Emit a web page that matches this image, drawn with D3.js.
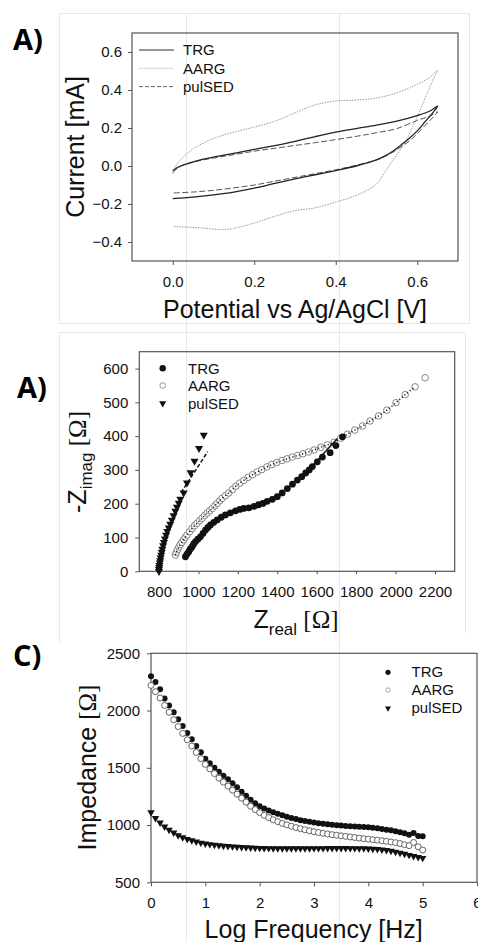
<!DOCTYPE html>
<html><head><meta charset="utf-8">
<script src="https://cdn.jsdelivr.net/npm/d3@7"></script>
<style>body{margin:0;background:#fff}svg{display:block}</style>
</head><body>
<script>
// ---------- Panel A (CV) data ----------
const cvTicksX = [0, 0.2, 0.4, 0.6];
const cvTicksY = [-0.4, -0.2, 0.0, 0.2, 0.4, 0.6];
const trgE = [0,0.01,0.02,0.04,0.07,0.1,0.15,0.2,0.25,0.3,0.35,0.4,0.45,0.5,0.55,0.6,0.63,0.65,0.64,0.62,0.6,0.58,0.56,0.54,0.52,0.5,0.45,0.4,0.35,0.3,0.25,0.2,0.15,0.1,0.05,0];
const trgI = [-0.025,-0.01,0,0.015,0.033,0.047,0.067,0.087,0.107,0.13,0.155,0.178,0.197,0.215,0.236,0.265,0.288,0.315,0.285,0.235,0.185,0.145,0.11,0.078,0.052,0.032,0,-0.024,-0.046,-0.068,-0.092,-0.117,-0.137,-0.152,-0.164,-0.172];
const pulE = [0,0.01,0.02,0.04,0.07,0.1,0.15,0.2,0.25,0.3,0.35,0.4,0.45,0.5,0.55,0.6,0.63,0.65,0.64,0.62,0.6,0.58,0.56,0.54,0.52,0.5,0.45,0.4,0.35,0.3,0.25,0.2,0.15,0.1,0.05,0];
const pulI = [-0.035,-0.015,0,0.014,0.03,0.042,0.06,0.078,0.093,0.108,0.123,0.139,0.156,0.175,0.197,0.24,0.262,0.285,0.26,0.215,0.17,0.13,0.1,0.072,0.05,0.032,0.004,-0.02,-0.04,-0.06,-0.08,-0.1,-0.115,-0.128,-0.137,-0.142];
const aargE = [0,0.005,0.01,0.02,0.035,0.05,0.07,0.1,0.15,0.2,0.25,0.3,0.35,0.4,0.45,0.5,0.55,0.6,0.63,0.65,0.64,0.62,0.6,0.58,0.56,0.54,0.52,0.5,0.47,0.44,0.4,0.35,0.3,0.25,0.2,0.15,0.12,0.1,0.07,0.04,0.02,0];
const aargI = [-0.04,-0.01,0.01,0.035,0.065,0.09,0.115,0.145,0.178,0.205,0.235,0.28,0.322,0.342,0.347,0.358,0.385,0.43,0.465,0.505,0.46,0.36,0.26,0.165,0.09,0.03,-0.035,-0.095,-0.135,-0.163,-0.19,-0.22,-0.235,-0.265,-0.3,-0.328,-0.335,-0.332,-0.326,-0.322,-0.32,-0.318];

// ---------- Panel B (Nyquist) data ----------
const nyTicksX = [800,1000,1200,1400,1600,1800,2000,2200];
const nyTicksY = [0,100,200,300,400,500,600];
const nyTrgRe = [934,942,951,959,968,976,985,997,1010,1023,1036,1048,1061,1078,1095,1116,1137,1162,1188,1210,1230,1256,1282,1305,1327,1349,1375,1400,1425,1451,1477,1502,1524,1544,1562,1578,1603,1629,1668,1697,1731];
const nyTrgIm = [43,51,58,66,73,81,88,95,102,112,122,130,137,145,152,160,167,173,179,183,186,188,192,197,201,207,213,221,232,245,258,270,280,291,300,310,324,338,351,372,398];
const nyAargRe = [883,888,894,901,908,916,925,933,942,955,968,980,993,1006,1019,1031,1044,1057,1070,1083,1095,1108,1120,1137,1154,1172,1190,1210,1230,1252,1275,1298,1322,1347,1372,1398,1424,1450,1476,1503,1530,1558,1587,1620,1654,1688,1722,1756,1793,1832,1871,1914,1956,2002,2049,2099,2150];
const nyAargIm = [48,56,64,72,79,86,93,100,107,117,127,135,142,150,157,165,172,179,186,194,201,209,216,224,232,242,252,261,269,278,286,294,301,309,316,322,328,333,338,343,348,353,359,367,374,382,394,406,418,430,445,460,477,499,523,546,573];
const nyPulRe = [800,800,801,802,804,806,808,811,814,817,821,825,830,836,842,849,857,865,874,883,891,900,908,925,942,960,980,1003,1027];
const nyPulIm = [0,6,12,18,25,32,40,48,57,66,76,86,96,107,118,129,140,152,165,178,190,202,214,232,262,292,326,364,403];
const nyPulFitRe = [912,1047];
const nyPulFitIm = [233,354];
const nyTrgFitRe = [1540,1612,1705];
const nyTrgFitIm = [288,334,393];

// ---------- Panel C (Bode) data ----------
const bdTicksX = [0,1,2,3,4,5,6];
const bdTicksY = [500,1000,1500,2000,2500];
const logF = [0,0.083,0.167,0.25,0.333,0.417,0.5,0.583,0.667,0.75,0.833,0.917,1,1.083,1.167,1.25,1.333,1.417,1.5,1.583,1.667,1.75,1.833,1.917,2,2.083,2.167,2.25,2.333,2.417,2.5,2.583,2.667,2.75,2.833,2.917,3,3.083,3.167,3.25,3.333,3.417,3.5,3.583,3.667,3.75,3.833,3.917,4,4.083,4.167,4.25,4.333,4.417,4.5,4.583,4.667,4.75,4.833,4.917,5];
const bdTrg = [2300,2250,2185,2105,2045,1985,1925,1865,1805,1750,1690,1635,1580,1540,1500,1465,1430,1400,1365,1330,1290,1255,1220,1190,1165,1145,1128,1112,1098,1085,1073,1062,1052,1043,1035,1028,1022,1016,1011,1006,1002,998,995,992,990,987,985,982,980,977,972,966,960,954,946,938,928,915,930,905,902];
const bdAarg = [2220,2165,2110,2045,1985,1920,1860,1800,1745,1690,1635,1580,1530,1490,1450,1410,1375,1340,1305,1270,1235,1200,1165,1135,1108,1085,1065,1046,1030,1015,1002,990,978,968,959,950,942,935,928,922,916,911,906,901,896,891,886,881,877,872,868,863,858,852,846,838,828,820,848,810,782];
const bdPul = [1110,1060,1020,985,958,933,910,892,877,865,854,845,838,832,827,822,818,815,812,809,806,804,802,800,799,798,797,796,796,795,795,795,795,795,796,796,797,797,797,798,798,798,798,798,797,797,796,795,794,792,789,785,780,774,766,757,748,738,728,719,712];

const seriesNames = ["TRG", "AARG", "pulSED"];

// ---------- drawing ----------
const W = 478, H = 942;
const FONT = "'Liberation Sans', Arial, sans-serif";
const svg = d3.select("body").append("svg").attr("width", W).attr("height", H)
  .style("font-family", FONT);
svg.append("rect").attr("width", W).attr("height", H).attr("fill", "#fff");

// faint page guides
const guide = svg.append("g").attr("stroke", "#e8e8e8").attr("stroke-width", 1).attr("fill", "none");
guide.append("line").attr("x1", 186.5).attr("x2", 186.5).attr("y1", 13).attr("y2", H);
guide.append("line").attr("x1", 339.5).attr("x2", 339.5).attr("y1", 13).attr("y2", H);
guide.append("rect").attr("x", 59.5).attr("y", 13.5).attr("width", 410).attr("height", 310);
guide.append("path").attr("d", "M59.5,643 V332.5 H465.5 V633");

function zip(a, b) { const n = Math.min(a.length, b.length); return d3.range(n).map(i => [a[i], b[i]]); }

function frame(g, x, y) {
  const [x0, x1] = x.range(), [y0, y1] = y.range();
  g.append("rect").attr("x", x0).attr("y", y1).attr("width", x1 - x0).attr("height", y0 - y1)
    .attr("fill", "none").attr("stroke", "#555").attr("stroke-width", 1.2);
}
function styleAxis(sel) {
  sel.select(".domain").remove();
  sel.selectAll(".tick line").attr("stroke", "#555");
  sel.selectAll(".tick text").attr("fill", "#111").style("font-size", "15px").style("font-family", FONT);
}
function panelLetter(txt, x, y) {
  svg.append("text").attr("x", x).attr("y", y).text(txt)
    .style("font-family", "'Open Sans', 'DejaVu Sans', sans-serif").style("font-weight", 700)
    .style("font-size", "29px").attr("fill", "#000");
}

// ===== Panel A =====
{
  const x = d3.scaleLinear().domain([-0.1, 0.7]).range([132, 458]);
  const y = d3.scaleLinear().domain([-0.5, 0.7]).range([261, 33]);
  const g = svg.append("g");
  g.append("g").attr("transform", "translate(132,0)")
    .call(d3.axisLeft(y).tickValues(cvTicksY).tickFormat(d3.format(".1f")).tickSize(4).tickPadding(6)).call(styleAxis);
  g.append("g").attr("transform", "translate(0,261)")
    .call(d3.axisBottom(x).tickValues(cvTicksX).tickFormat(d3.format(".1f")).tickSize(4).tickPadding(11)).call(styleAxis);
  const line = d3.line().x(d => x(d[0])).y(d => y(d[1])).curve(d3.curveCatmullRom.alpha(0.5));
  g.append("path").attr("d", line(zip(aargE, aargI))).attr("fill", "none").attr("stroke", "#9a9a9a").attr("stroke-width", 1).attr("stroke-dasharray", "1.5,1.2");
  g.append("path").attr("d", line(zip(pulE, pulI))).attr("fill", "none").attr("stroke", "#555").attr("stroke-width", 1).attr("stroke-dasharray", "6,2.5");
  g.append("path").attr("d", line(zip(trgE, trgI))).attr("fill", "none").attr("stroke", "#222").attr("stroke-width", 1.3);
  frame(g, x, y);
  // legend
  const styles = [{s: "#333", w: 1.2, d: null}, {s: "#b0b0b0", w: 1, d: "1.5,1.2"}, {s: "#666", w: 1, d: "4,2"}];
  seriesNames.forEach((n, i) => {
    const ly = 50 + i * 18.3;
    g.append("line").attr("x1", 139).attr("x2", 174).attr("y1", ly).attr("y2", ly)
      .attr("stroke", styles[i].s).attr("stroke-width", styles[i].w).attr("stroke-dasharray", styles[i].d);
    g.append("text").attr("x", 183).attr("y", ly + 5.2).text(n).style("font-size", "15px").attr("fill", "#111");
  });
  g.append("text").attr("transform", "translate(84,147) rotate(-90)").attr("text-anchor", "middle")
    .style("font-size", "25px").attr("fill", "#111").text("Current [mA]");
  g.append("text").attr("x", 295).attr("y", 318).attr("text-anchor", "middle")
    .style("font-size", "25px").attr("fill", "#111").text("Potential vs Ag/AgCl [V]");
  panelLetter("A)", 13, 50);
}

// marker helpers
const triPath = s => d3.symbol().type(d3.symbolTriangle).size(s)();
function filled(g, pts, r) {
  g.selectAll(null).data(pts).join("circle").attr("cx", d => d[0]).attr("cy", d => d[1]).attr("r", r).attr("fill", "#111");
}
function open(g, pts, r, stroke) {
  g.selectAll(null).data(pts).join("circle").attr("cx", d => d[0]).attr("cy", d => d[1]).attr("r", r)
    .attr("fill", "#fff").attr("stroke", stroke).attr("stroke-width", 0.9);
}
function tris(g, pts, s) {
  g.selectAll(null).data(pts).join("path").attr("d", triPath(s))
    .attr("transform", d => `translate(${d[0]},${d[1]}) rotate(180)`).attr("fill", "#111");
}

// ===== Panel B =====
{
  const x = d3.scaleLinear().domain([700, 2300]).range([139.3, 454.7]);
  const y = d3.scaleLinear().domain([0, 650]).range([571.3, 351.7]);
  const g = svg.append("g");
  g.append("g").attr("transform", "translate(139.3,0)")
    .call(d3.axisLeft(y).tickValues(nyTicksY).tickFormat(d3.format("d")).tickSize(4).tickPadding(7)).call(styleAxis);
  g.append("g").attr("transform", "translate(0,571.3)")
    .call(d3.axisBottom(x).tickValues(nyTicksX).tickFormat(d3.format("d")).tickSize(3).tickPadding(12)).call(styleAxis);
  frame(g, x, y);
  const P = (re, im) => zip(re, im).map(d => [x(d[0]), y(d[1])]);
  open(g, P(nyAargRe, nyAargIm), 3.3, "#777");
  const line = d3.line().curve(d3.curveCatmullRom.alpha(0.5));
  g.append("path").attr("d", line(P(nyAargRe.slice(0, -1), nyAargIm.slice(0, -1)))).attr("fill", "none")
    .attr("stroke", "#111").attr("stroke-width", 1.4).attr("stroke-dasharray", "1.2,2.2");
  filled(g, P(nyTrgRe, nyTrgIm), 3.4);
  g.append("path").attr("d", line(P(nyTrgFitRe, nyTrgFitIm))).attr("fill", "none").attr("stroke", "#111").attr("stroke-width", 1.4);
  tris(g, P(nyPulRe, nyPulIm), 28);
  g.append("path").attr("d", line(P(nyPulFitRe, nyPulFitIm))).attr("fill", "none").attr("stroke", "#111")
    .attr("stroke-width", 1.5).attr("stroke-dasharray", "4,2");
  // legend
  const lx = 162.7, ys = [368.3, 385.5, 403.3];
  filled(g, [[lx, ys[0]]], 3.2);
  open(g, [[lx, ys[1]]], 2.8, "#888");
  tris(g, [[lx, ys[2]]], 22);
  seriesNames.forEach((n, i) => g.append("text").attr("x", 188).attr("y", ys[i] + 5.3).text(n).style("font-size", "15px").attr("fill", "#111"));
  // labels
  const yl = g.append("text").attr("transform", "translate(86,462) rotate(-90)").attr("text-anchor", "middle")
    .style("font-size", "25px").attr("fill", "#111");
  yl.append("tspan").text("-Z");
  yl.append("tspan").text("imag").style("font-size", "17px").attr("dy", 6);
  yl.append("tspan").text(" [Ω]").attr("dy", -6).style("font-family", "'Liberation Serif', 'DejaVu Serif', serif");
  const xl = g.append("text").attr("x", 296).attr("y", 628).attr("text-anchor", "middle")
    .style("font-size", "25px").attr("fill", "#111");
  xl.append("tspan").text("Z");
  xl.append("tspan").text("real").style("font-size", "17px").attr("dy", 7);
  xl.append("tspan").text(" [Ω]").attr("dy", -7).style("font-family", "'Liberation Serif', 'DejaVu Serif', serif");
  panelLetter("A)", 17, 398);
}

// ===== Panel C =====
{
  const x = d3.scaleLinear().domain([0, 6]).range([151, 477]);
  const y = d3.scaleLinear().domain([500, 2500]).range([882.3, 653.3]);
  const g = svg.append("g");
  g.append("g").attr("transform", "translate(151,0)")
    .call(d3.axisLeft(y).tickValues(bdTicksY).tickFormat(d3.format("d")).tickSize(4).tickPadding(7)).call(styleAxis);
  g.append("g").attr("transform", "translate(0,882.3)")
    .call(d3.axisBottom(x).tickValues(bdTicksX).tickFormat(d3.format("d")).tickSize(4).tickPadding(11)).call(styleAxis);
  frame(g, x, y);
  const P = v => zip(logF, v).map(d => [x(d[0]), y(d[1])]);
  filled(g, P(bdTrg), 3);
  open(g, P(bdAarg), 3, "#555");
  tris(g, P(bdPul), 24);
  // legend
  const lx = 388, ys = [672.3, 690, 708.3];
  filled(g, [[lx, ys[0]]], 2.6);
  open(g, [[lx, ys[1]]], 2.2, "#999");
  tris(g, [[lx, ys[2]]], 16);
  seriesNames.forEach((n, i) => g.append("text").attr("x", 411.5).attr("y", ys[i] + 5).text(n).style("font-size", "15px").attr("fill", "#111"));
  const yl = g.append("text").attr("transform", "translate(96,767.5) rotate(-90)").attr("text-anchor", "middle")
    .style("font-size", "25px").attr("fill", "#111");
  yl.append("tspan").text("Impedance ");
  yl.append("tspan").text("[Ω]").style("font-family", "'Liberation Serif', 'DejaVu Serif', serif");
  g.append("text").attr("x", 313.7).attr("y", 938).attr("text-anchor", "middle")
    .style("font-size", "25px").attr("fill", "#111").text("Log Frequency [Hz]");
  panelLetter("C)", 13, 666);
}
</script>
</body></html>
